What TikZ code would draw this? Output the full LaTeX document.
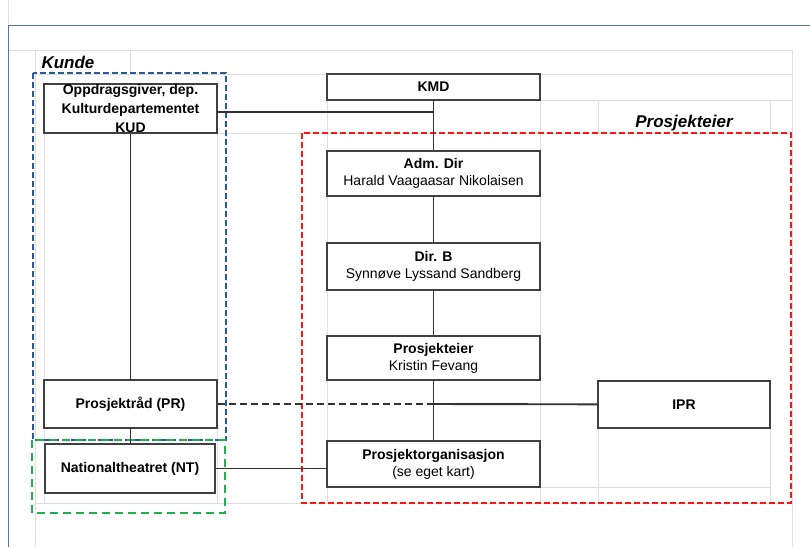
\documentclass[tikz,border=0pt]{standalone}
\usepackage{fontspec}
\setmainfont{Liberation Sans}
\usetikzlibrary{positioning}
\definecolor{gridgray}{HTML}{DEDEDE}
\definecolor{sheetblue}{HTML}{5573A3}
\definecolor{kundeblue}{HTML}{2B5B97}
\definecolor{ntgreen}{HTML}{1FAF4C}
\definecolor{eierred}{HTML}{FF1414}
\tikzset{
  gridline/.style={draw=gridgray, line width=0.9pt},
  orgbox/.style={draw=black!75, fill=white, line width=1.3pt, inner sep=0pt,
    minimum width=213pt, align=center, font=\fontsize{14}{17}\selectfont},
  sidebox/.style={orgbox, minimum width=173pt},
  link/.style={draw=black!80, line width=1.9pt},
  dashlink/.style={link, line width=1.7pt, dash pattern=on 7pt off 4pt},
  grouplabel/.style={font=\fontsize{17}{20}\selectfont\bfseries\itshape},
}

\begin{document}
\begin{tikzpicture}[x=1pt, y=-1pt]
      \useasboundingbox (0, 0) rectangle (810, 547);
      \foreach \xa/\ya/\xb/\yb in {8/50/792/50, 35/74/792/74, 540/100/792/100,
        217/133/792/133, 540/487/770/487, 35/503/792/503, 8/0/8/25,
        35/50/35/547, 130/50/130/74, 44/133/44/503, 217/133/217/503,
        327/74/327/503, 540/74/540/503, 598/100/598/133, 598/428/598/503,
        770/100/770/133, 770/428/770/503, 792/50/792/547}
      {
        \draw [gridline] (\xa, \ya) -- (\xb, \yb);
      }
      \draw [sheetblue, line width=1pt] (810, 25) -- (8, 25) -- (8, 547);

      \node [grouplabel, anchor=base west] (kundelabel) at (38, 68) {Kunde};
      \node [grouplabel, anchor=base] (eierlabel) at (684, 127) {Prosjekteier};

      \node [sidebox, minimum height=49pt,
        label={[align=center, font=\fontsize{14}{19}\selectfont\bfseries]center:Oppdragsgiver, dep.\\Kulturdepartementet\\KUD}]
        (kud) at (130.5, 108.5) {};
      \node [orgbox, minimum height=26pt, font=\fontsize{14}{17}\selectfont\bfseries]
        (kmd) at (433.5, 87) {KMD};
      \node [orgbox, minimum height=45pt] (adm) at (433.5, 173.5)
        {\textbf{Adm. Dir}\\Harald Vaagaasar Nikolaisen};
      \node [orgbox, minimum height=47pt] (dirb) at (433.5, 266.5)
        {\textbf{Dir. B}\\Synnøve Lyssand Sandberg};
      \node [orgbox, minimum height=44pt] (eier) at (433.5, 358)
        {\textbf{Prosjekteier}\\Kristin Fevang};
      \node [orgbox, minimum height=46pt] (porg) at (433.5, 464)
        {\textbf{Prosjektorganisasjon}\\(se eget kart)};
      \node [sidebox, minimum height=47pt, minimum width=172pt, font=\fontsize{14}{17}\selectfont\bfseries]
        (ipr) at (684, 404.5) {IPR};
      \node [sidebox, minimum height=48pt, font=\fontsize{14}{17}\selectfont\bfseries]
        (pr) at (130.5, 404) {Prosjektråd (PR)};
      \node [sidebox, minimum height=49pt, minimum width=170pt, font=\fontsize{14}{17}\selectfont\bfseries]
        (nt) at (130, 468.5) {Nationaltheatret (NT)};

      \draw [kundeblue, line width=1.6pt, dash pattern=on 6pt off 3pt]
        (33, 73) rectangle (226, 440);
      \draw [ntgreen, line width=2.4pt, dash pattern=on 8pt off 5pt]
        (32, 440) rectangle (225, 513);
      \draw [eierred, line width=1.5pt, dash pattern=on 6pt off 3pt]
        (302, 133) rectangle (791, 503);

      \coordinate (cross) at (pr -| eier);
      \draw [link] (kud) -- (pr);
      \draw [link] (pr.south) -- (pr.south |- nt.north);
      \draw [link] ([yshift=-3.5pt]kud.east) -- ([yshift=-3.5pt]kud.east -| kmd.south);
      \draw [link] (kmd) -- (adm);
      \draw [link] (adm) -- (dirb);
      \draw [link] (dirb) -- (eier);
      \draw [link] (eier) -- (porg);
      \draw [dashlink] (pr) -- (cross);
      \draw [link] (cross) -- (ipr);
      \draw [link] (nt) -- (nt -| porg.west);
    \end{tikzpicture}
\end{document}
